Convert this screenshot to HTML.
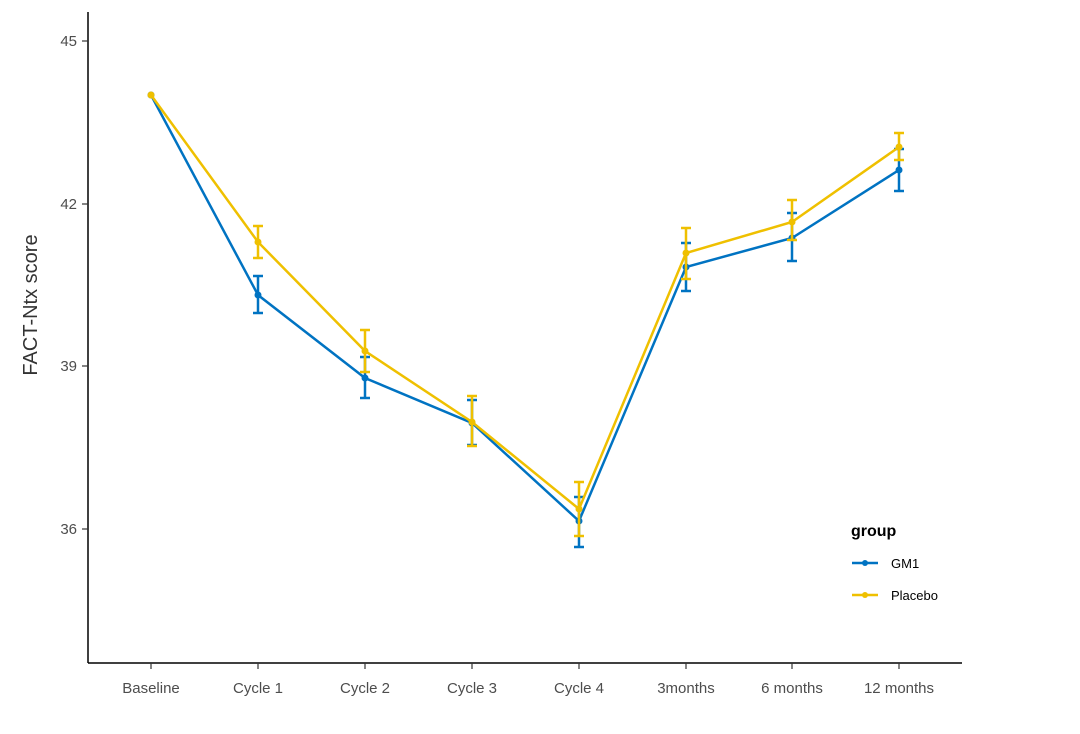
<!DOCTYPE html>
<html><head><meta charset="utf-8"><style>
html,body{margin:0;padding:0;background:#fff;}
svg{display:block;font-family:"Liberation Sans",sans-serif;}
</style></head><body>
<svg width="1080" height="734" viewBox="0 0 1080 734" xmlns="http://www.w3.org/2000/svg">
<rect width="1080" height="734" fill="#fff"/>
<!-- axes -->
<line x1="88" y1="12" x2="88" y2="663" stroke="#000" stroke-width="1.5"/>
<line x1="88" y1="663" x2="962" y2="663" stroke="#000" stroke-width="1.5"/>
<g stroke="#333" stroke-width="1.2">
<line x1="82" y1="41" x2="88" y2="41"/><line x1="82" y1="204" x2="88" y2="204"/>
<line x1="82" y1="366" x2="88" y2="366"/><line x1="82" y1="529" x2="88" y2="529"/>
<line x1="151" y1="663" x2="151" y2="669"/><line x1="258" y1="663" x2="258" y2="669"/>
<line x1="365" y1="663" x2="365" y2="669"/><line x1="472" y1="663" x2="472" y2="669"/>
<line x1="579" y1="663" x2="579" y2="669"/><line x1="686" y1="663" x2="686" y2="669"/>
<line x1="792" y1="663" x2="792" y2="669"/><line x1="899" y1="663" x2="899" y2="669"/>
</g>
<g font-size="15" fill="#4d4d4d" text-anchor="end">
<text x="77" y="46">45</text><text x="77" y="209">42</text>
<text x="77" y="371">39</text><text x="77" y="534">36</text>
</g>
<g font-size="15" fill="#4d4d4d" text-anchor="middle">
<text x="151" y="693">Baseline</text><text x="258" y="693">Cycle 1</text>
<text x="365" y="693">Cycle 2</text><text x="472" y="693">Cycle 3</text>
<text x="579" y="693">Cycle 4</text><text x="686" y="693">3months</text>
<text x="792" y="693">6 months</text><text x="899" y="693">12 months</text>
</g>
<text transform="translate(37,305) rotate(-90)" font-size="20" fill="#333" text-anchor="middle">FACT-Ntx score</text>
<!-- GM1 -->
<g stroke="#0073C2" stroke-width="2.5" fill="none">
<polyline points="151,95 258,295 365,378 472,423 579,521 686,267 792,238 899,170"/>
<path d="M258,276V313M253,276H263M253,313H263
M365,357V398M360,357H370M360,398H370
M472,400V445M467,400H477M467,445H477
M579,497V547M574,497H584M574,547H584
M686,243V291M681,243H691M681,291H691
M792,213V261M787,213H797M787,261H797
M899,149V191M894,149H904M894,191H904"/>
</g>
<g fill="#0073C2">
<circle cx="151" cy="95" r="3.5"/><circle cx="258" cy="295" r="3.5"/><circle cx="365" cy="378" r="3.5"/>
<circle cx="472" cy="423" r="3.5"/><circle cx="579" cy="521" r="3.5"/><circle cx="686" cy="267" r="3.5"/>
<circle cx="792" cy="238" r="3.5"/><circle cx="899" cy="170" r="3.5"/>
</g>
<!-- Placebo -->
<g stroke="#EFC000" stroke-width="2.5" fill="none">
<polyline points="151,95 258,242 365,351 472,422 579,509 686,253 792,222 899,147"/>
<path d="M258,226V258M253,226H263M253,258H263
M365,330V372M360,330H370M360,372H370
M472,396V446M467,396H477M467,446H477
M579,482V536M574,482H584M574,536H584
M686,228V279M681,228H691M681,279H691
M792,200V240M787,200H797M787,240H797
M899,133V160M894,133H904M894,160H904"/>
</g>
<g fill="#EFC000">
<circle cx="151" cy="95" r="3.5"/><circle cx="258" cy="242" r="3.5"/><circle cx="365" cy="351" r="3.5"/>
<circle cx="472" cy="422" r="3.5"/><circle cx="579" cy="509" r="3.5"/><circle cx="686" cy="253" r="3.5"/>
<circle cx="792" cy="222" r="3.5"/><circle cx="899" cy="147" r="3.5"/>
</g>
<!-- legend -->
<text x="851" y="536" font-size="16" font-weight="bold" fill="#000">group</text>
<line x1="852" y1="563" x2="878" y2="563" stroke="#0073C2" stroke-width="2.5"/>
<circle cx="865" cy="563" r="3" fill="#0073C2"/>
<text x="891" y="568" font-size="13" fill="#000">GM1</text>
<line x1="852" y1="595" x2="878" y2="595" stroke="#EFC000" stroke-width="2.5"/>
<circle cx="865" cy="595" r="3" fill="#EFC000"/>
<text x="891" y="600" font-size="13" fill="#000">Placebo</text>
</svg>
</body></html>
